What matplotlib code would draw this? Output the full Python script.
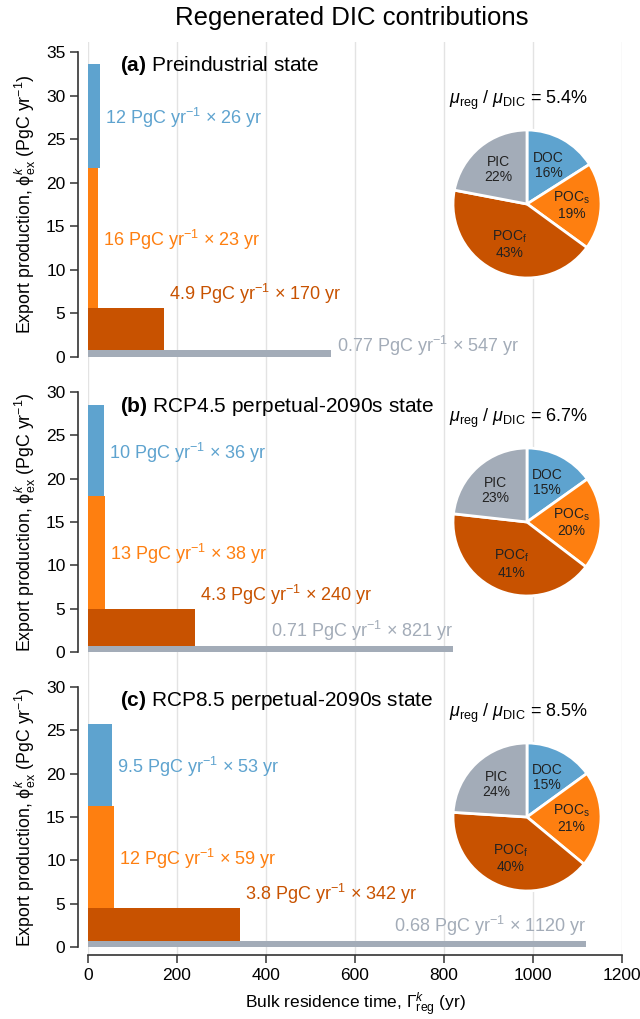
import numpy as np
import matplotlib
matplotlib.use("Agg")
import matplotlib.pyplot as plt
from matplotlib.transforms import offset_copy

plt.rcParams['font.family'] = ['Liberation Sans', 'DejaVu Sans']
plt.rcParams['mathtext.fontset'] = 'custom'
plt.rcParams['mathtext.rm'] = 'Liberation Sans'
plt.rcParams['mathtext.it'] = 'Liberation Sans:italic'
plt.rcParams['mathtext.bf'] = 'Liberation Sans:bold'

# Componentes, de abajo hacia arriba en las barras
COMPONENTES = ["PIC", "POCf", "POCs", "DOC"]
COLORES = ["#A3ACB8", "#C85200", "#FE7F10", "#5EA3CF"]

PANELES = ["(a)", "(b)", "(c)"]
ESTADOS = ["Preindustrial state", "RCP4.5 perpetual-2090s state",
           "RCP8.5 perpetual-2090s state"]

# Export production (PgC/yr) y tiempo de residencia (yr): PIC, POCf, POCs, DOC
FLUJO_PRE = [0.77, 4.9, 16, 12]
TIEMPO_PRE = [547, 170, 23, 26]
FLUJO_45 = [0.71, 4.3, 13, 10.45]
TIEMPO_45 = [821, 240, 38, 36]
FLUJO_85 = [0.68, 3.8, 11.8, 9.5]
TIEMPO_85 = [1120, 342, 59, 53]

# Tortas (%): DOC, POCs, POCf, PIC (sentido horario desde arriba)
PIE_ETIQUETAS = ["DOC", r"POC$_\mathrm{s}$", r"POC$_\mathrm{f}$", "PIC"]
PIE_COLORES = ["#5EA3CF", "#FE7F10", "#C85200", "#A3ACB8"]
PIE_PRE = [16, 19, 43, 22]
PIE_45 = [15, 20, 41, 23]
PIE_85 = [15, 21, 40, 24]
MU_RATIO = [5.4, 6.7, 8.5]
YMAX = [35, 30, 30]

FLUJOS = [FLUJO_PRE, FLUJO_45, FLUJO_85]
TIEMPOS = [TIEMPO_PRE, TIEMPO_45, TIEMPO_85]
PIES = [PIE_PRE, PIE_45, PIE_85]

W, H = 640, 1019
fig = plt.figure(figsize=(W / 100, H / 100), dpi=100)


def rect(x0, y0, x1, y1):
    # pixeles (origen arriba-izquierda) -> fraccion de figura
    return [x0 / W, 1 - y1 / H, (x1 - x0) / W, (y1 - y0) / H]


SPINE = "#333333"
GRIS = "#E3E3E3"
FS = 13

# --- Ejes de fondo: grilla vertical continua y eje x ---
ax_bg = fig.add_axes(rect(88, 42, 622, 955), zorder=0)
ax_bg.set_xlim(0, 1200)
ax_bg.set_ylim(0, 1)
ax_bg.set_xticks(np.arange(0, 1201, 200))
ax_bg.set_yticks([])
ax_bg.grid(axis="x", color=GRIS, lw=1)
for s in ["left", "right", "top"]:
    ax_bg.spines[s].set_visible(False)
ax_bg.spines["bottom"].set_color(SPINE)
ax_bg.spines["bottom"].set_linewidth(1.2)
ax_bg.tick_params(axis="x", direction="out", length=6, width=1.1,
                  color=SPINE, labelsize=12.5, pad=3)
ax_bg.set_xlabel(r"Bulk residence time, $\Gamma_\mathrm{reg}^{k}$ (yr)",
                 fontsize=12.5, labelpad=6)
ax_bg.patch.set_alpha(0)

fig.text(352 / W, 1 - 18 / H, "Regenerated DIC contributions",
         ha="center", va="center", fontsize=18.5)

# pixeles de cada panel: (arriba, abajo)
CAJAS = [(52, 357), (392, 652), (687, 947)]
CENTROS_PIE = [204, 522, 817]
R_PIE = 74

for i in range(3):
    top, bot = CAJAS[i]
    ax = fig.add_axes(rect(88, top, 622, bot), zorder=2)
    ax.patch.set_alpha(0)
    ax.set_xlim(0, 1200)
    ax.set_ylim(0, YMAX[i])
    for s in ["right", "top", "bottom"]:
        ax.spines[s].set_visible(False)
    ax.spines["left"].set_position(("outward", 7.2))
    ax.spines["left"].set_color(SPINE)
    ax.spines["left"].set_linewidth(1.2)
    ax.set_xticks([])
    ax.set_yticks(np.arange(0, YMAX[i] + 1, 5))
    ax.tick_params(axis="y", direction="out", length=6, width=1.1,
                   color=SPINE, labelsize=12.5, pad=3)
    ax.set_ylabel(r"Export production, ϕ$_\mathrm{ex}^{k}$ (PgC yr$^{-1}$)",
                  fontsize=12.8)
    ax.yaxis.set_label_coords(-0.094, 0.5)

    flujo = np.array(FLUJOS[i])
    tiempo = np.array(TIEMPOS[i])
    base = np.concatenate([[0], np.cumsum(flujo)[:-1]])
    ax.barh(base, tiempo, height=flujo, left=0, align="edge",
            color=COLORES, lw=0)

    for k in range(4):
        txt = (f"{flujo[k]:.2g} PgC yr$^{{-1}}$ × {tiempo[k]:.0f} yr")
        tope = base[k] + flujo[k]
        if COMPONENTES[k] in ("DOC", "POCs"):
            tr = offset_copy(ax.transData, fig, x=5, y=-2, units="dots")
            ax.text(tiempo[k], base[k] + flujo[k] / 2, txt, transform=tr,
                    ha="left", va="center", color=COLORES[k], fontsize=FS)
        elif COMPONENTES[k] == "POCf":
            tr = offset_copy(ax.transData, fig, x=5, y=2, units="dots")
            ax.text(tiempo[k], tope, txt, transform=tr, ha="left",
                    va="bottom", color=COLORES[k], fontsize=FS)
        else:
            if tiempo[k] > 700:
                tr = offset_copy(ax.transData, fig, x=0, y=3, units="dots")
                ax.text(tiempo[k], tope, txt, transform=tr, ha="right",
                        va="bottom", color=COLORES[k], fontsize=FS,
                        clip_on=False)
            else:
                tr = offset_copy(ax.transData, fig, x=6, y=4, units="dots")
                ax.text(tiempo[k], tope, txt, transform=tr, ha="left",
                        va="center", color=COLORES[k], fontsize=FS)

    ax.text(32 / 534, 1 - 14 / (bot - top),
            rf"$\bf{{{PANELES[i]}}}$ {ESTADOS[i]}",
            transform=ax.transAxes, ha="left", va="center", fontsize=15)

    # torta
    cy = CENTROS_PIE[i]
    axp = fig.add_axes(rect(527 - R_PIE, cy - R_PIE, 527 + R_PIE, cy + R_PIE),
                       zorder=3)
    vals = PIES[i]
    axp.pie(vals, colors=PIE_COLORES, startangle=90, counterclock=False,
            wedgeprops=dict(edgecolor="white", linewidth=2))
    axp.set_xlim(-1.0, 1.0)
    axp.set_ylim(-1.0, 1.0)
    ang = 90 - np.cumsum([0] + vals[:-1]) * 3.6 - np.array(vals) * 1.8
    for k in range(4):
        a = np.deg2rad(ang[k])
        axp.text(0.6 * np.cos(a), 0.6 * np.sin(a),
                 f"{PIE_ETIQUETAS[k]}\n{vals[k]}%", ha="center", va="center",
                 fontsize=10, color="#222222", linespacing=1.1)
    axp.text(0.44, 1.2,
             rf"$\mu_\mathrm{{reg}}$ / $\mu_\mathrm{{DIC}}$ = {MU_RATIO[i]}%",
             transform=axp.transAxes, ha="center", va="center", fontsize=13)

fig.savefig("out.png", dpi=100)
